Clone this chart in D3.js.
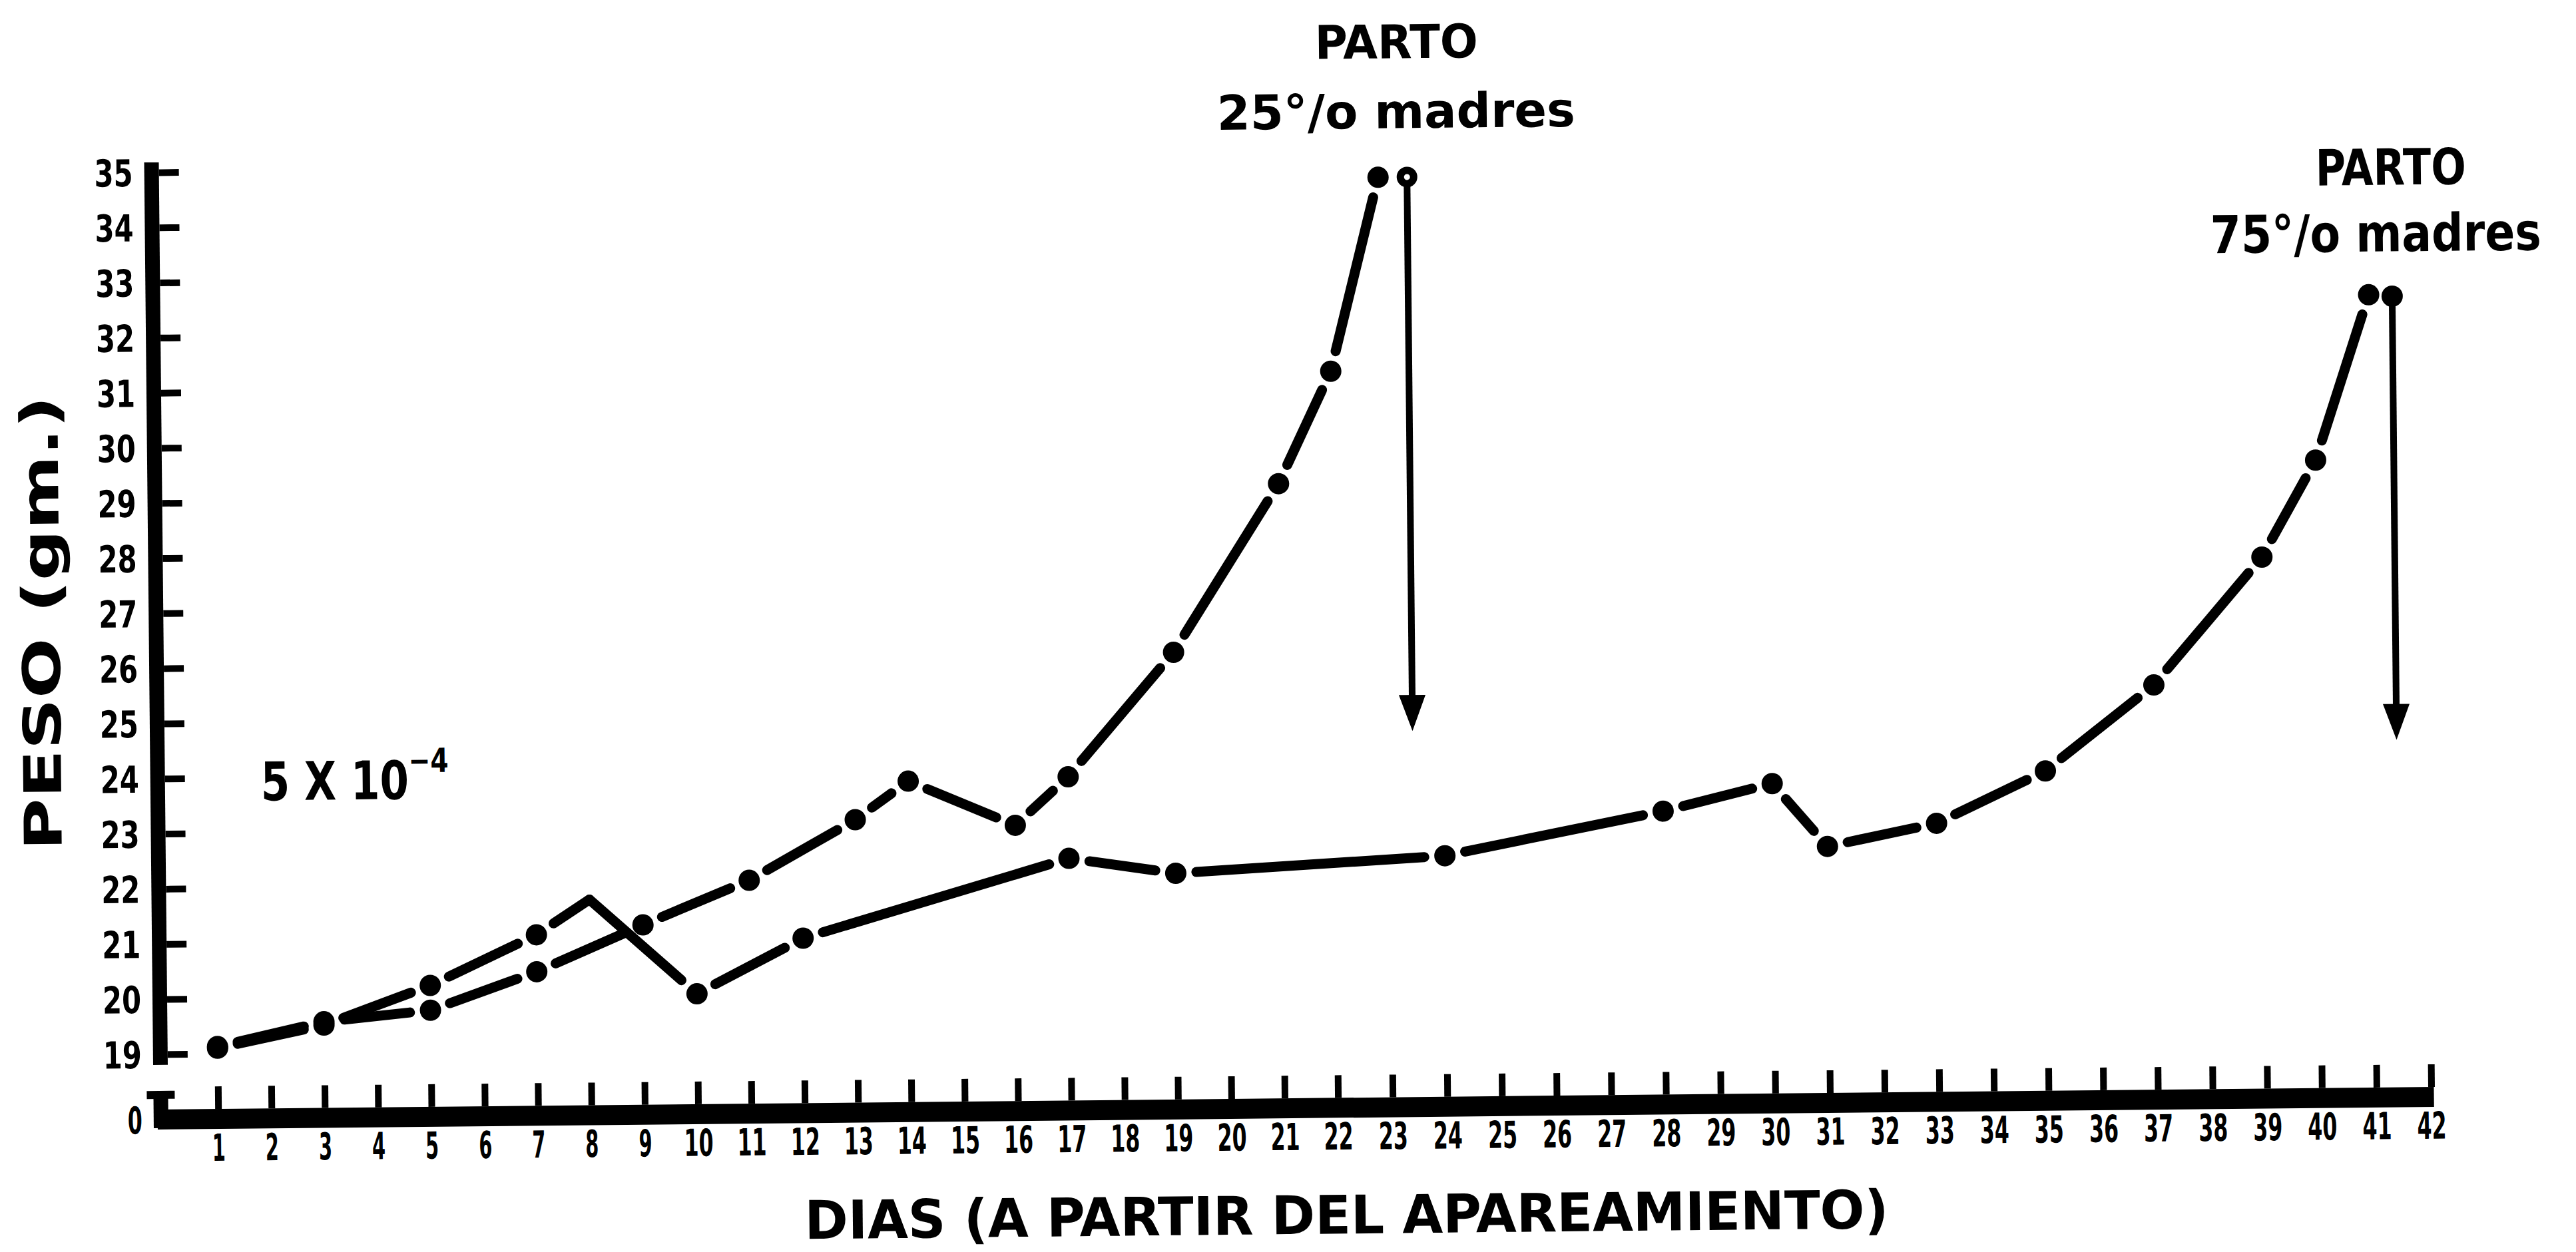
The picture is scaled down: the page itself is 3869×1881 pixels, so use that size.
<!DOCTYPE html>
<html>
<head>
<meta charset="utf-8">
<script src="https://cdnjs.cloudflare.com/ajax/libs/d3/7.8.5/d3.min.js"></script>
<style>
body { margin: 0; background: #fff; }
svg text { font-family: "DejaVu Sans Condensed", "DejaVu Sans", sans-serif; font-weight: bold; fill: #000; }
</style>
</head>
<body>
<script>
// valores (peso en gm, dias desde el apareamiento)
var dias25 = [1, 3, 5, 7, 9, 11, 13, 14, 16, 17, 19, 21, 22, 22.9];
var peso25 = [19.13, 19.56, 19.75, 20.43, 21.26, 22.05, 23.13, 23.82, 23.0, 23.87, 26.11, 29.15, 31.18, 34.69];
var punto25 = [true, true, true, true, true, true, true, true, true, true, true, true, true, true];

var dias75 = [1, 3, 5, 7, 8, 10, 12, 17, 19, 24, 28, 30, 31, 33, 35, 37, 39, 40, 41];
var peso75 = [19.1, 19.5, 20.2, 21.1, 21.73, 20.0, 20.99, 22.39, 22.1, 22.37, 23.14, 23.62, 22.47, 22.87, 23.8, 25.34, 27.64, 29.39, 32.38];
var punto75 = [true, true, true, true, false, true, true, true, true, true, true, true, true, true, true, true, true, true, true];

// parto: segundo punto y flecha hacia abajo
var partoDia = [23.43, 41.43];
var partoPeso = [34.69, 32.35];
var partoFlecha = [24.64, 24.3];
var partoAnillo = [true, false];

var diasTicks = [1, 2, 3, 4, 5, 6, 7, 8, 9, 10, 11, 12, 13, 14, 15, 16, 17, 18, 19, 20, 21,
                 22, 23, 24, 25, 26, 27, 28, 29, 30, 31, 32, 33, 34, 35, 36, 37, 38, 39, 40, 41, 42];
var pesoTicks = [19, 20, 21, 22, 23, 24, 25, 26, 27, 28, 29, 30, 31, 32, 33, 34, 35];

var W = 3869, H = 1881;
var svg = d3.select("body").append("svg").attr("width", W).attr("height", H);
svg.append("rect").attr("width", W).attr("height", H).attr("fill", "#fff");

// the scanned page is a bit tilted
var g = svg.append("g").attr("transform", "rotate(-0.57,235,1600)");

var x = d3.scaleLinear().domain([1, 22, 42]).range([327, 2009, 3651]);
var y = d3.scaleLinear().domain([19, 35]).range([1584, 259]);

// eje Y
g.append("line").attr("x1", 241).attr("x2", 241).attr("y1", 244).attr("y2", 1600)
  .attr("stroke", "#000").attr("stroke-width", 22);
var ejeY = g.append("g").attr("transform", "translate(252,0)")
  .call(d3.axisLeft(y).tickValues(pesoTicks).tickSizeInner(-30).tickSizeOuter(0).tickPadding(39));
ejeY.select(".domain").remove();
ejeY.selectAll("line").attr("stroke-width", 10);
ejeY.selectAll("text").attr("font-size", 56).attr("dy", "0.36em")
  .attr("textLength", 58).attr("lengthAdjust", "spacingAndGlyphs");

// trozo del eje con el cero
g.append("line").attr("x1", 241).attr("x2", 241).attr("y1", 1640).attr("y2", 1695)
  .attr("stroke", "#000").attr("stroke-width", 22);
g.append("line").attr("x1", 220).attr("x2", 262).attr("y1", 1645).attr("y2", 1645)
  .attr("stroke", "#000").attr("stroke-width", 12);
g.append("text").attr("x", 213).attr("y", 1683).attr("dy", "0.36em").attr("text-anchor", "end")
  .attr("font-size", 56).attr("textLength", 22).attr("lengthAdjust", "spacingAndGlyphs").text("0");

// eje X
g.append("line").attr("x1", 236).attr("x2", 3655).attr("y1", 1682).attr("y2", 1682)
  .attr("stroke", "#000").attr("stroke-width", 30);
var ejeX = g.append("g").attr("transform", "translate(0,1667)")
  .call(d3.axisBottom(x).tickValues(diasTicks).tickSizeInner(-34).tickSizeOuter(0).tickPadding(38));
ejeX.select(".domain").remove();
ejeX.selectAll("line").attr("stroke-width", 10);
ejeX.selectAll("text").attr("font-size", 56)
  .attr("textLength", function(d) { return d < 10 ? 20 : 44; })
  .attr("lengthAdjust", "spacingAndGlyphs");

// curvas
var linea = d3.line();
function dibujaSerie(dias, peso, punto) {
  var pts = dias.map(function(d, i) { return [x(d), y(peso[i])]; });
  var corte = 31;
  for (var i = 0; i < pts.length - 1; i++) {
    var p0 = pts[i], p1 = pts[i + 1];
    var dx = p1[0] - p0[0], dy = p1[1] - p0[1];
    var len = Math.sqrt(dx * dx + dy * dy);
    var a = punto[i] ? corte / len : 0;
    var b = punto[i + 1] ? corte / len : 0;
    g.append("path")
      .attr("d", linea([[p0[0] + dx * a, p0[1] + dy * a], [p1[0] - dx * b, p1[1] - dy * b]]))
      .attr("fill", "none").attr("stroke", "#000").attr("stroke-width", 15)
      .attr("stroke-linecap", "round");
  }
  g.selectAll(null).data(pts.filter(function(p, i) { return punto[i]; }))
    .enter().append("circle")
    .attr("cx", function(p) { return p[0]; })
    .attr("cy", function(p) { return p[1]; })
    .attr("r", 16).attr("fill", "#000");
}
dibujaSerie(dias25, peso25, punto25);
dibujaSerie(dias75, peso75, punto75);

// parto
partoDia.forEach(function(d, i) {
  var px = x(d), py = y(partoPeso[i]), pf = y(partoFlecha[i]);
  if (partoAnillo[i]) {
    g.append("circle").attr("cx", px).attr("cy", py).attr("r", 10)
      .attr("fill", "#fff").attr("stroke", "#000").attr("stroke-width", 11);
  } else {
    g.append("circle").attr("cx", px).attr("cy", py).attr("r", 16).attr("fill", "#000");
  }
  g.append("line").attr("x1", px).attr("x2", px).attr("y1", py + 12).attr("y2", pf - 45)
    .attr("stroke", "#000").attr("stroke-width", 10);
  g.append("path")
    .attr("d", "M" + (px - 20) + "," + (pf - 54) + "L" + (px + 20) + "," + (pf - 54) + "L" + px + "," + pf + "Z")
    .attr("fill", "#000");
});

// textos
g.append("text").attr("x", 1990).attr("y", 106).attr("font-size", 70)
  .attr("textLength", 245).attr("lengthAdjust", "spacingAndGlyphs").text("PARTO");
g.append("text").attr("x", 1842).attr("y", 211).attr("font-size", 72)
  .attr("textLength", 538).attr("lengthAdjust", "spacingAndGlyphs").text("25°/o madres");
g.append("text").attr("x", 3491).attr("y", 311).attr("font-size", 75)
  .attr("textLength", 226).attr("lengthAdjust", "spacingAndGlyphs").text("PARTO");
g.append("text").attr("x", 3332).attr("y", 411).attr("font-size", 78)
  .attr("textLength", 497).attr("lengthAdjust", "spacingAndGlyphs").text("75°/o madres");

g.append("text").attr("x", 1206).attr("y", 1871).attr("font-size", 80)
  .attr("textLength", 1628).attr("lengthAdjust", "spacingAndGlyphs")
  .text("DIAS (A PARTIR DEL APAREAMIENTO)");

g.append("text").attr("transform", "translate(96,1276) rotate(-90)").attr("font-size", 78)
  .attr("textLength", 683).attr("lengthAdjust", "spacingAndGlyphs").text("PESO (gm.)");

// 5 X 10^-4 in one text, exponent as tspan
var escala = g.append("text").attr("x", 396).attr("y", 1204).attr("font-size", 80)
  .attr("textLength", 282).attr("lengthAdjust", "spacingAndGlyphs");
escala.append("tspan").text("5 X 10");
escala.append("tspan").attr("dy", -40).attr("font-size", 50).text("−4");
</script>
</body>
</html>
